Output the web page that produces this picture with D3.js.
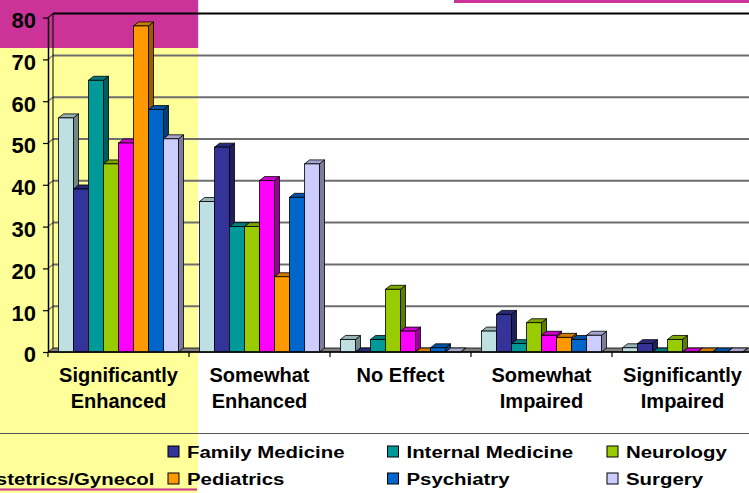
<!DOCTYPE html>
<html>
<head>
<meta charset="utf-8">
<script src="https://cdn.jsdelivr.net/npm/d3@7"></script>
<style>
  html, body { margin: 0; padding: 0; background: #fff; }
  svg { display: block; font-family: "Liberation Sans", Arial, sans-serif; font-weight: bold; }
</style>
</head>
<body>
<svg id="chart" width="749" height="493"></svg>
<script>
// Categories along the x axis (two lines each)
const categories = [
  ["Significantly", "Enhanced"],
  ["Somewhat", "Enhanced"],
  ["No Effect"],
  ["Somewhat", "Impaired"],
  ["Significantly", "Impaired"]
];

// Series names (the first series has no legend entry shown)
const seriesNames = ["", "Family Medicine", "Internal Medicine", "Neurology",
  "Obstetrics/Gynecol", "Pediatrics", "Psychiatry", "Surgery"];

const seriesColors = ["#BEE0E3", "#333399", "#009999", "#99CC00",
  "#FF00FF", "#FF9900", "#0066CC", "#CCCCFF"];

// Values per series, one per category
const series0 = [56, 36, 3, 5, 1];
const familyMedicine = [39, 49, 0, 9, 2];
const internalMedicine = [65, 30, 3, 2, 0];
const neurology = [45, 30, 15, 7, 3];
const obGyn = [50, 41, 5, 4, 0];
const pediatrics = [78, 18, 0, 3.5, 0];
const psychiatry = [58, 37, 1, 3, 0];
const surgery = [51, 45, 0, 4, 0];

const seriesValues = [series0, familyMedicine, internalMedicine, neurology,
  obGyn, pediatrics, psychiatry, surgery];

const yTicks = [0, 10, 20, 30, 40, 50, 60, 70, 80];

const svg = d3.select("#chart");
const W = 749, H = 493;

// Backdrop panels
svg.append("rect").attr("x", 0).attr("y", 0).attr("width", W).attr("height", H).attr("fill", "#fff");
svg.append("rect").attr("x", 0).attr("y", 47).attr("width", 198).attr("height", H - 47).attr("fill", "#FFFF99");
svg.append("rect").attr("x", 0).attr("y", 0).attr("width", 198).attr("height", 48).attr("fill", "#CC3399");
svg.append("line").attr("x1", 197.5).attr("x2", 197.5).attr("y1", 0).attr("y2", 48)
  .attr("stroke", "#B040B8").attr("stroke-width", 1.5);
svg.append("rect").attr("x", 454).attr("y", 0).attr("width", W - 454).attr("height", 3).attr("fill", "#CC3399");

// Geometry
const baseY = 352, left = 48, right = 753;
const dx = 5, dy = 4; // depth offset of the 3D walls and bars

const y = d3.scaleLinear().domain([0, 80]).range([baseY, baseY - 80 * 4.18]);
const x0 = d3.scaleBand().domain(d3.range(categories.length)).range([left, right]).paddingInner(0).paddingOuter(0);
const x1 = d3.scaleBand().domain(d3.range(seriesNames.length)).range([0, x0.bandwidth()]).paddingInner(0).paddingOuter(0.7);

// Back wall gridlines
const grid = svg.append("g");
yTicks.filter(v => v > 0).forEach(v => {
  const gy = y(v) - dy;
  grid.append("line")
    .attr("x1", left + dx).attr("x2", W + 5)
    .attr("y1", gy).attr("y2", gy)
    .attr("stroke", v === 80 ? "#000" : "#6e6e6e")
    .attr("stroke-width", 2);
  // slant on the left wall
  grid.append("line")
    .attr("x1", left).attr("y1", y(v))
    .attr("x2", left + dx).attr("y2", gy)
    .attr("stroke", v === 80 ? "#000" : "#6e6e6e")
    .attr("stroke-width", 1.2);
});
// Left wall back edge
grid.append("line")
  .attr("x1", left + dx).attr("x2", left + dx)
  .attr("y1", y(0) - dy).attr("y2", y(80) - dy)
  .attr("stroke", "#000").attr("stroke-width", 1);

// Floor
svg.append("polygon")
  .attr("points", [[left, baseY], [right, baseY], [right + dx, baseY - dy], [left + dx, baseY - dy]].map(p => p.join(",")).join(" "))
  .attr("fill", "#808080").attr("stroke", "#000").attr("stroke-width", 0.8);

// Bars
const barsG = svg.append("g");
const bw = x1.bandwidth();
categories.forEach((cat, ci) => {
  seriesValues.forEach((vals, si) => {
    const v = vals[ci];
    const bx = x0(ci) + x1(si);
    const top = y(v);
    const base = d3.color(seriesColors[si]);
    const topC = base.darker(0.6).formatHex();
    const sideC = base.darker(1.4).formatHex();
    const g = barsG.append("g");
    // side face
    g.append("polygon")
      .attr("points", [[bx + bw, top], [bx + bw + dx, top - dy], [bx + bw + dx, baseY - dy], [bx + bw, baseY]].map(p => p.join(",")).join(" "))
      .attr("fill", sideC).attr("stroke", "#000").attr("stroke-width", 0.8).attr("stroke-linejoin", "round");
    // top face
    g.append("polygon")
      .attr("points", [[bx, top], [bx + dx, top - dy], [bx + bw + dx, top - dy], [bx + bw, top]].map(p => p.join(",")).join(" "))
      .attr("fill", topC).attr("stroke", "#000").attr("stroke-width", 0.8).attr("stroke-linejoin", "round");
    // front face
    if (v > 0) {
      g.append("rect")
        .attr("x", bx).attr("y", top)
        .attr("width", bw).attr("height", baseY - top)
        .attr("fill", seriesColors[si]).attr("stroke", "#000").attr("stroke-width", 0.8);
    }
  });
});

// Y axis (front edge of the left wall)
const yAxis = d3.axisLeft(y).tickValues(yTicks).tickSize(5).tickSizeOuter(0).tickPadding(7);
const yg = svg.append("g").attr("transform", `translate(${left},0)`).call(yAxis);
yg.select(".domain").attr("stroke", "#000").attr("stroke-width", 1.5);
yg.selectAll(".tick line").attr("stroke", "#000").attr("stroke-width", 1.2);
yg.selectAll(".tick text")
  .attr("font-size", 22).attr("font-weight", "bold")
  .attr("font-family", "'Liberation Sans', Arial, sans-serif")
  .attr("fill", "#000").attr("dy", "0.45em");

// X axis line and category boundary ticks
svg.append("line").attr("x1", left).attr("x2", W + 5).attr("y1", baseY).attr("y2", baseY)
  .attr("stroke", "#000").attr("stroke-width", 1.5);
d3.range(categories.length + 1).forEach(i => {
  const tx = left + i * x0.step();
  svg.append("line").attr("x1", tx).attr("x2", tx).attr("y1", baseY).attr("y2", baseY + 5)
    .attr("stroke", "#000").attr("stroke-width", 1.2);
});

// Category labels
categories.forEach((cat, ci) => {
  const cx = x0(ci) + x0.bandwidth() / 2;
  const t = svg.append("text")
    .attr("text-anchor", "middle")
    .attr("font-size", 20)
    .attr("fill", "#000");
  cat.forEach((line, li) => {
    t.append("tspan").attr("x", cx).attr("y", 382 + li * 26).text(line);
  });
});

// Separator above the legend
svg.append("line").attr("x1", 0).attr("x2", W).attr("y1", 433.5).attr("y2", 433.5)
  .attr("stroke", "#555").attr("stroke-width", 1);

// Legend: 4 columns, 2 rows
const colX = [-51.5, 168, 387.5, 607];
const rowY = [458, 485];
const legend = svg.append("g");
seriesNames.forEach((name, si) => {
  if (!name) return;
  const col = si % 4, row = Math.floor(si / 4);
  const lx = colX[col], ly = rowY[row];
  legend.append("rect")
    .attr("x", lx).attr("y", ly - 12)
    .attr("width", 11).attr("height", 11)
    .attr("fill", seriesColors[si]).attr("stroke", "#000").attr("stroke-width", 1);
  legend.append("text")
    .attr("transform", `translate(${lx + 19},${ly}) scale(1.2,1)`)
    .attr("font-size", 17)
    .attr("fill", "#000")
    .text(name);
});

// Underline beneath the left legend column
svg.append("rect").attr("x", 0).attr("y", 488.5).attr("width", 197).attr("height", 2).attr("fill", "#CC3399");
</script>
</body>
</html>
